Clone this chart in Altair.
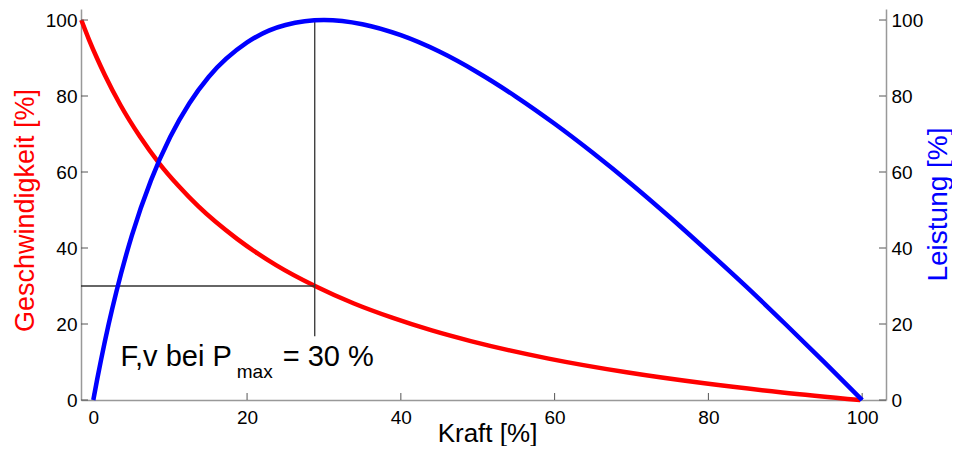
import altair as alt
import pandas as pd

# Red curve: Geschwindigkeit (velocity) vs Kraft
force_red = [-1.56, -0.55, 0.47, 1.48, 3.51, 6.04, 8.57, 11.10, 13.64, 18.70, 23.77,
             28.83, 33.90, 38.96, 44.03, 49.09, 59.22, 69.35, 79.48, 89.61, 99.74]
speed_red = [100, 94.8, 90.0, 85.6, 77.7, 69.4, 62.3, 56.3, 51.0, 42.4, 35.5,
             30.0, 25.4, 21.6, 18.3, 15.5, 10.9, 7.3, 4.4, 2.0, 0]

# Blue curve: Leistung (power) vs Kraft
force_blue = [0, 0.5, 1, 2, 3, 5, 7.5, 10, 12.5, 15, 20, 25, 30, 35, 40, 45, 50,
              55, 60, 65, 70, 75, 80, 85, 90, 95, 100]
power_blue = [0, 5.4, 10.5, 20.0, 28.5, 43.2, 57.8, 69.2, 78.1, 85.0, 94.1, 98.7,
              100, 98.9, 96.0, 91.7, 86.2, 79.8, 72.7, 65.0, 56.8, 48.1, 39.0,
              29.7, 20.0, 10.1, 0]

tick_values = [0, 20, 40, 60, 80, 100]
x_domain = [-1.6, 103.1]
y_domain = [0, 102.9]

# reference lines at P max
ref_force = 28.8
ref_speed = 30
ref_top = 100
ref_bottom = 16.8

# annotation
ann_labels = ["F,v bei P", "max", "= 30 %"]
ann_x = [3.54, 18.66, 24.64]
ann_y = [8.95, 5.8, 8.95]
ann_size = [29, 19, 29]

red_df = pd.DataFrame({"F": force_red, "v": speed_red})
blue_df = pd.DataFrame({"F": force_blue, "P": power_blue})
ticks_df = pd.DataFrame({"t": tick_values})
seg_df = pd.DataFrame({
    "x": [x_domain[0], ref_force], "x2": [ref_force, ref_force],
    "y": [ref_speed, ref_bottom], "y2": [ref_speed, ref_top]})
ann_df = pd.DataFrame({"label": ann_labels, "x": ann_x, "y": ann_y, "fs": ann_size})

W, H = 805, 391
xs = alt.Scale(domain=x_domain, nice=False, zero=False)
ys = alt.Scale(domain=y_domain, nice=False, zero=False)
FONT = "Liberation Sans"

x_axis = alt.Axis(values=tick_values, ticks=False, grid=False, domainColor="#999999",
                  domainWidth=1.5, labelFontSize=19, labelPadding=8, labelColor="black",
                  labelFont=FONT, title="Kraft [%]", titleFontSize=26,
                  titleFontWeight="normal", titleColor="black", titleFont=FONT,
                  titleX=406, titleY=41, titleAlign="center", titleBaseline="alphabetic")
y_left_axis = alt.Axis(values=tick_values, ticks=False, grid=False, domainColor="#999999",
                       domainWidth=1.5, labelFontSize=19, labelPadding=4, labelColor="black",
                       labelFont=FONT, title="Geschwindigkeit [%]", titleColor="red",
                       titleFontSize=27, titleFontWeight="normal", titleFont=FONT,
                       titleAngle=270, titleAlign="center", titleBaseline="alphabetic",
                       titleX=-48, titleY=201)
y_right_axis = alt.Axis(orient="right", values=tick_values, ticks=False, grid=False,
                        domainColor="#999999", domainWidth=1.5, labelFontSize=19,
                        labelPadding=5, labelColor="black", labelFont=FONT,
                        title="Leistung [%]", titleColor="blue", titleFontSize=28,
                        titleFontWeight="normal", titleFont=FONT, titleAngle=270,
                        titleAlign="center", titleBaseline="alphabetic",
                        titleX=60, titleY=195)

red_line = alt.Chart(red_df).mark_line(color="#ff0000", strokeWidth=4.5, interpolate="monotone").encode(
    x=alt.X("F:Q", scale=xs, axis=x_axis),
    y=alt.Y("v:Q", scale=ys, axis=y_left_axis),
)
segs = alt.Chart(seg_df).mark_rule(color="#333333", strokeWidth=1.3).encode(
    x=alt.X("x:Q", scale=xs), x2="x2:Q",
    y=alt.Y("y:Q", scale=ys), y2="y2:Q",
)
left_ticks = alt.Chart(ticks_df).mark_rule(color="#555555", strokeWidth=1).encode(
    y=alt.Y("t:Q", scale=ys), x=alt.value(0), x2=alt.value(7))
bottom_ticks = alt.Chart(ticks_df).mark_rule(color="#555555", strokeWidth=1).encode(
    x=alt.X("t:Q", scale=xs), y=alt.value(H), y2=alt.value(H - 7))
ann = alt.Chart(ann_df).mark_text(align="left", baseline="alphabetic", color="black", font=FONT).encode(
    x=alt.X("x:Q", scale=xs),
    y=alt.Y("y:Q", scale=ys),
    text="label:N",
    size=alt.Size("fs:Q", scale=None, legend=None),
)

left = alt.layer(red_line, segs, left_ticks, bottom_ticks, ann)

blue_line = alt.Chart(blue_df).mark_line(color="#0000ff", strokeWidth=4.5, interpolate="monotone").encode(
    x=alt.X("F:Q", scale=xs),
    y=alt.Y("P:Q", scale=ys, axis=y_right_axis),
)
right_ticks = alt.Chart(ticks_df).mark_rule(color="#555555", strokeWidth=1).encode(
    y=alt.Y("t:Q", scale=ys), x=alt.value(W), x2=alt.value(W - 7))
right = alt.layer(blue_line, right_ticks)

chart = alt.layer(left, right).resolve_scale(y="independent").properties(
    width=W, height=H,
    autosize=alt.AutoSizeParams(type="none"),
    padding={"left": 73, "top": 1, "right": 66, "bottom": 46},
).configure(
    font=FONT, background="white",
    view=alt.ViewConfig(stroke="transparent", strokeWidth=0),
)

chart.save("out.html", embed_options={"renderer": "svg", "actions": False})
